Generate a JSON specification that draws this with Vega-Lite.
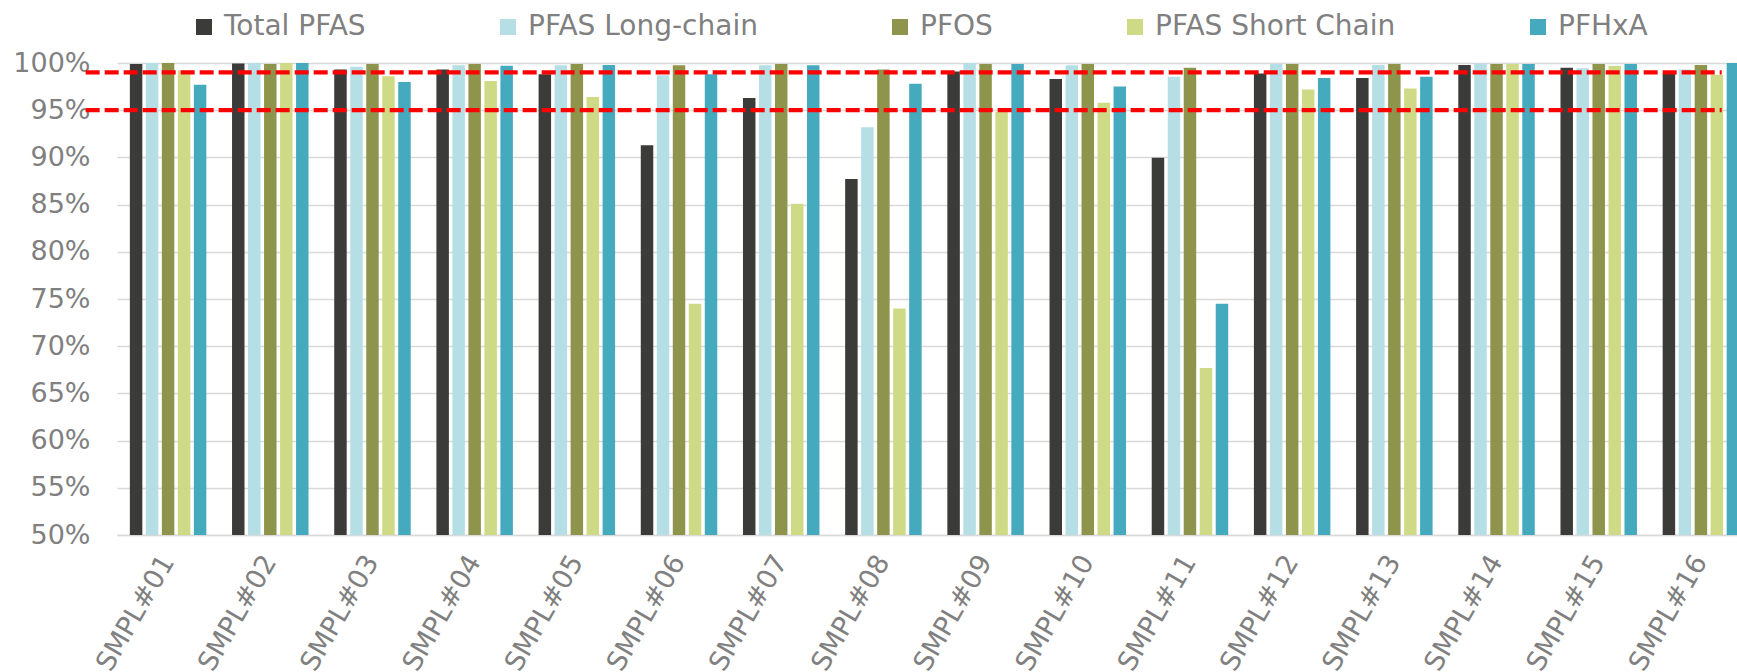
{
  "$schema": "https://vega.github.io/schema/vega-lite/v6.json",
  "width": 1620,
  "height": 472,
  "autosize": {"type": "none"},
  "padding": {"left": 117, "top": 63, "right": 0, "bottom": 137},
  "background": "white",
  "config": {"font": "DejaVu Sans", "view": {"stroke": null}},
  "datasets": {
    "bars": [
      {"sample": "SMPL#01", "metric": "Total PFAS", "value": 0.999},
      {"sample": "SMPL#01", "metric": "PFAS Long-chain", "value": 1.0},
      {"sample": "SMPL#01", "metric": "PFOS", "value": 1.0},
      {"sample": "SMPL#01", "metric": "PFAS Short Chain", "value": 0.992},
      {"sample": "SMPL#01", "metric": "PFHxA", "value": 0.977},
      {"sample": "SMPL#02", "metric": "Total PFAS", "value": 0.9995},
      {"sample": "SMPL#02", "metric": "PFAS Long-chain", "value": 1.0},
      {"sample": "SMPL#02", "metric": "PFOS", "value": 0.999},
      {"sample": "SMPL#02", "metric": "PFAS Short Chain", "value": 1.0},
      {"sample": "SMPL#02", "metric": "PFHxA", "value": 1.0},
      {"sample": "SMPL#03", "metric": "Total PFAS", "value": 0.993},
      {"sample": "SMPL#03", "metric": "PFAS Long-chain", "value": 0.996},
      {"sample": "SMPL#03", "metric": "PFOS", "value": 0.999},
      {"sample": "SMPL#03", "metric": "PFAS Short Chain", "value": 0.986},
      {"sample": "SMPL#03", "metric": "PFHxA", "value": 0.98},
      {"sample": "SMPL#04", "metric": "Total PFAS", "value": 0.993},
      {"sample": "SMPL#04", "metric": "PFAS Long-chain", "value": 0.9975},
      {"sample": "SMPL#04", "metric": "PFOS", "value": 0.999},
      {"sample": "SMPL#04", "metric": "PFAS Short Chain", "value": 0.981},
      {"sample": "SMPL#04", "metric": "PFHxA", "value": 0.997},
      {"sample": "SMPL#05", "metric": "Total PFAS", "value": 0.988},
      {"sample": "SMPL#05", "metric": "PFAS Long-chain", "value": 0.9975},
      {"sample": "SMPL#05", "metric": "PFOS", "value": 0.999},
      {"sample": "SMPL#05", "metric": "PFAS Short Chain", "value": 0.964},
      {"sample": "SMPL#05", "metric": "PFHxA", "value": 0.998},
      {"sample": "SMPL#06", "metric": "Total PFAS", "value": 0.913},
      {"sample": "SMPL#06", "metric": "PFAS Long-chain", "value": 0.987},
      {"sample": "SMPL#06", "metric": "PFOS", "value": 0.9975},
      {"sample": "SMPL#06", "metric": "PFAS Short Chain", "value": 0.745},
      {"sample": "SMPL#06", "metric": "PFHxA", "value": 0.988},
      {"sample": "SMPL#07", "metric": "Total PFAS", "value": 0.963},
      {"sample": "SMPL#07", "metric": "PFAS Long-chain", "value": 0.9975},
      {"sample": "SMPL#07", "metric": "PFOS", "value": 0.999},
      {"sample": "SMPL#07", "metric": "PFAS Short Chain", "value": 0.851},
      {"sample": "SMPL#07", "metric": "PFHxA", "value": 0.9975},
      {"sample": "SMPL#08", "metric": "Total PFAS", "value": 0.877},
      {"sample": "SMPL#08", "metric": "PFAS Long-chain", "value": 0.932},
      {"sample": "SMPL#08", "metric": "PFOS", "value": 0.993},
      {"sample": "SMPL#08", "metric": "PFAS Short Chain", "value": 0.74},
      {"sample": "SMPL#08", "metric": "PFHxA", "value": 0.978},
      {"sample": "SMPL#09", "metric": "Total PFAS", "value": 0.991},
      {"sample": "SMPL#09", "metric": "PFAS Long-chain", "value": 1.0},
      {"sample": "SMPL#09", "metric": "PFOS", "value": 0.999},
      {"sample": "SMPL#09", "metric": "PFAS Short Chain", "value": 0.948},
      {"sample": "SMPL#09", "metric": "PFHxA", "value": 0.999},
      {"sample": "SMPL#10", "metric": "Total PFAS", "value": 0.983},
      {"sample": "SMPL#10", "metric": "PFAS Long-chain", "value": 0.9975},
      {"sample": "SMPL#10", "metric": "PFOS", "value": 0.999},
      {"sample": "SMPL#10", "metric": "PFAS Short Chain", "value": 0.958},
      {"sample": "SMPL#10", "metric": "PFHxA", "value": 0.975},
      {"sample": "SMPL#11", "metric": "Total PFAS", "value": 0.8995},
      {"sample": "SMPL#11", "metric": "PFAS Long-chain", "value": 0.9855},
      {"sample": "SMPL#11", "metric": "PFOS", "value": 0.995},
      {"sample": "SMPL#11", "metric": "PFAS Short Chain", "value": 0.677},
      {"sample": "SMPL#11", "metric": "PFHxA", "value": 0.745},
      {"sample": "SMPL#12", "metric": "Total PFAS", "value": 0.989},
      {"sample": "SMPL#12", "metric": "PFAS Long-chain", "value": 0.999},
      {"sample": "SMPL#12", "metric": "PFOS", "value": 0.999},
      {"sample": "SMPL#12", "metric": "PFAS Short Chain", "value": 0.972},
      {"sample": "SMPL#12", "metric": "PFHxA", "value": 0.984},
      {"sample": "SMPL#13", "metric": "Total PFAS", "value": 0.984},
      {"sample": "SMPL#13", "metric": "PFAS Long-chain", "value": 0.998},
      {"sample": "SMPL#13", "metric": "PFOS", "value": 0.999},
      {"sample": "SMPL#13", "metric": "PFAS Short Chain", "value": 0.973},
      {"sample": "SMPL#13", "metric": "PFHxA", "value": 0.9855},
      {"sample": "SMPL#14", "metric": "Total PFAS", "value": 0.998},
      {"sample": "SMPL#14", "metric": "PFAS Long-chain", "value": 0.9995},
      {"sample": "SMPL#14", "metric": "PFOS", "value": 0.999},
      {"sample": "SMPL#14", "metric": "PFAS Short Chain", "value": 0.999},
      {"sample": "SMPL#14", "metric": "PFHxA", "value": 0.999},
      {"sample": "SMPL#15", "metric": "Total PFAS", "value": 0.995},
      {"sample": "SMPL#15", "metric": "PFAS Long-chain", "value": 0.9944},
      {"sample": "SMPL#15", "metric": "PFOS", "value": 0.999},
      {"sample": "SMPL#15", "metric": "PFAS Short Chain", "value": 0.9968},
      {"sample": "SMPL#15", "metric": "PFHxA", "value": 0.999},
      {"sample": "SMPL#16", "metric": "Total PFAS", "value": 0.989},
      {"sample": "SMPL#16", "metric": "PFAS Long-chain", "value": 0.993},
      {"sample": "SMPL#16", "metric": "PFOS", "value": 0.998},
      {"sample": "SMPL#16", "metric": "PFAS Short Chain", "value": 0.9876},
      {"sample": "SMPL#16", "metric": "PFHxA", "value": 1.0}
    ],
    "thresholds": [
      {"value": 0.99},
      {"value": 0.95}
    ]
  },
  "layer": [
    {
      "data": {"name": "bars"},
      "mark": {"type": "bar"},
      "encoding": {
        "x": {
          "field": "sample",
          "type": "nominal",
          "sort": null,
          "scale": {"range": [0, 1635], "paddingInner": 0.217, "paddingOuter": 0.1085},
          "axis": {
            "title": null,
            "labelAngle": -60,
            "labelFontSize": 27,
            "labelColor": "#808080",
            "labelPadding": 22,
            "labelLimit": 0,
            "ticks": false,
            "domain": true,
            "domainColor": "#d9d9d9",
            "domainWidth": 1.5,
            "grid": false
          }
        },
        "xOffset": {
          "field": "metric",
          "type": "nominal",
          "sort": ["Total PFAS", "PFAS Long-chain", "PFOS", "PFAS Short Chain", "PFHxA"],
          "scale": {"paddingInner": 0.22, "paddingOuter": 0.11}
        },
        "y": {
          "field": "value",
          "type": "quantitative",
          "scale": {"domain": [0.5, 1.0], "zero": false, "clamp": true},
          "axis": {
            "title": null,
            "format": ".0%",
            "values": [0.5, 0.55, 0.6, 0.65, 0.7, 0.75, 0.8, 0.85, 0.9, 0.95, 1.0],
            "labelFontSize": 27,
            "labelColor": "#808080",
            "labelPadding": 27,
            "ticks": false,
            "domain": false,
            "grid": true,
            "gridColor": "#d9d9d9",
            "gridWidth": 1.5
          }
        },
        "color": {
          "field": "metric",
          "type": "nominal",
          "scale": {
            "domain": ["Total PFAS", "PFAS Long-chain", "PFOS", "PFAS Short Chain", "PFHxA"],
            "range": ["#3b3b3a", "#b6dee5", "#8f944d", "#cfda87", "#46aabf"]
          },
          "legend": {
            "title": null,
            "orient": "none",
            "legendX": 73,
            "legendY": -50,
            "direction": "horizontal",
            "columns": 5,
            "symbolType": "square",
            "symbolSize": 256,
            "symbolStrokeWidth": 0,
            "labelFontSize": 28,
            "labelColor": "#808080",
            "labelOffset": 6,
            "labelLimit": 0,
            "columnPadding": 128
          }
        }
      }
    },
    {
      "data": {"name": "thresholds"},
      "mark": {"type": "rule", "color": "#ff0000", "strokeWidth": 4.3, "strokeDash": [14, 5]},
      "encoding": {
        "x": {"datum": "SMPL#01", "bandPosition": -0.53},
        "x2": {"datum": "SMPL#16", "bandPosition": 0.76},
        "y": {"field": "value", "type": "quantitative"}
      }
    }
  ]
}
